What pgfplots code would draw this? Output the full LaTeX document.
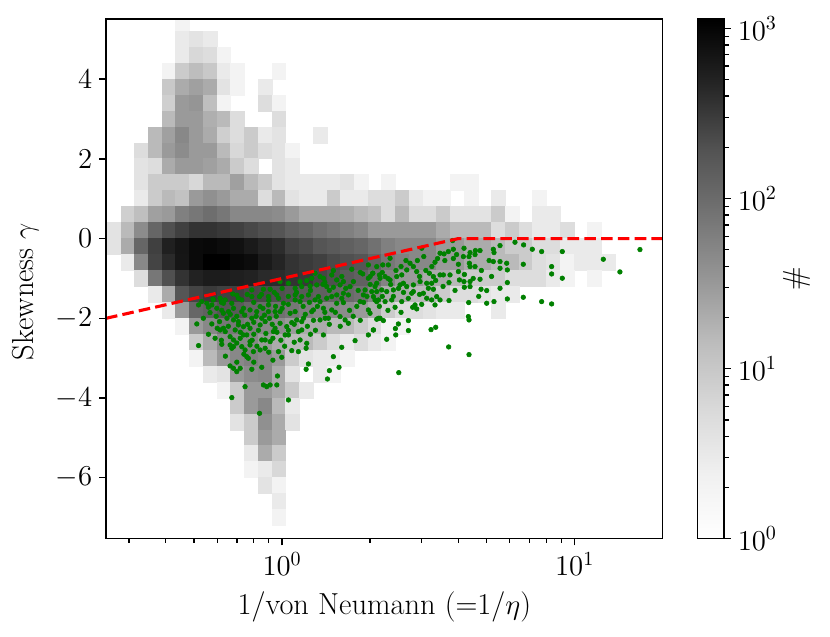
\documentclass[border=0pt]{standalone}
\usepackage{pgfplots}
\pgfplotsset{compat=1.18}
\definecolor{mplgreen}{HTML}{008000}
\pgfdeclareplotmark{cell}{%
  \pgfpathrectangle{\pgfpoint{-3.433pt}{-3.985pt}}{\pgfpoint{6.866pt}{7.970pt}}%
  \pgfusepathqfillstroke}
\pgfplotsset{
  colormap={mplgreys}{rgb255=(255,255,255) rgb255=(240,240,240) rgb255=(217,217,217) rgb255=(189,189,189) rgb255=(150,150,150) rgb255=(115,115,115) rgb255=(82,82,82) rgb255=(37,37,37) rgb255=(0,0,0)},
}
\pgfplotstableread{
x y c
0.4574 5.4 2
0.4574 5.0 3
0.5096 5.0 4
0.5677 5.0 3
0.4574 4.6 3
0.5096 4.6 6
0.5677 4.6 5
0.6324 4.6 2
0.4106 4.2 2
0.4574 4.2 9
0.5096 4.2 14
0.5677 4.2 10
0.6324 4.2 3
0.7047 4.2 2
0.9748 4.2 2
0.4106 3.8 10
0.4574 3.8 21
0.5096 3.8 27
0.5677 3.8 21
0.6324 3.8 4
0.7047 3.8 2
0.8750 3.8 3
0.4106 3.4 8
0.4574 3.4 31
0.5096 3.4 35
0.5677 3.4 13
0.6324 3.4 2
0.8750 3.4 5
0.9748 3.4 2
0.4106 3.0 15
0.4574 3.0 31
0.5096 3.0 31
0.5677 3.0 19
0.6324 3.0 15
0.7047 3.0 5
0.9748 3.0 5
0.3685 2.6 15
0.4106 2.6 27
0.4574 2.6 48
0.5096 2.6 31
0.5677 2.6 21
0.6324 2.6 8
0.7047 2.6 5
0.7852 2.6 9
0.8750 2.6 3
0.9748 2.6 4
1.3480 2.6 3
0.3308 2.2 5
0.3685 2.2 15
0.4106 2.2 31
0.4574 2.2 43
0.5096 2.2 31
0.5677 2.2 31
0.6324 2.2 15
0.7047 2.2 6
0.7852 2.2 9
0.8750 2.2 5
0.9748 2.2 4
1.0859 2.2 2
0.3308 1.8 4
0.3685 1.8 5
0.4106 1.8 21
0.4574 1.8 31
0.5096 1.8 31
0.5677 1.8 27
0.6324 1.8 21
0.7047 1.8 9
0.7852 1.8 5
0.9748 1.8 4
1.0859 1.8 3
0.3308 1.4 4
0.3685 1.4 9
0.4106 1.4 9
0.4574 1.4 9
0.5096 1.4 6
0.5677 1.4 15
0.6324 1.4 15
0.7047 1.4 27
0.7852 1.4 15
0.8750 1.4 9
0.9748 1.4 4
1.0859 1.4 3
1.2099 1.4 3
1.3480 1.4 3
1.5021 1.4 3
1.6734 1.4 4
1.8646 1.4 2
2.3143 1.4 2
3.9727 1.4 2
4.4270 1.4 2
0.3308 1.0 3
0.3685 1.0 9
0.4106 1.0 15
0.4574 1.0 12
0.5096 1.0 31
0.5677 1.0 39
0.6324 1.0 31
0.7047 1.0 21
0.7852 1.0 21
0.8750 1.0 5
0.9748 1.0 15
1.0859 1.0 4
1.2099 1.0 3
1.3480 1.0 3
1.5021 1.0 9
1.6734 1.0 3
1.8646 1.0 3
2.0773 1.0 5
2.3143 1.0 5
2.5787 1.0 9
2.8725 1.0 3
3.2006 1.0 2
3.5662 1.0 2
4.4270 1.0 2
5.4950 1.0 3
7.5996 1.0 2
0.2970 0.6 8
0.3308 0.6 13
0.3685 0.6 27
0.4106 0.6 31
0.4574 0.6 59
0.5096 0.6 73
0.5677 0.6 92
0.6324 0.6 73
0.7047 0.6 48
0.7852 0.6 48
0.8750 0.6 48
0.9748 0.6 43
1.0859 0.6 31
1.2099 0.6 21
1.3480 0.6 21
1.5021 0.6 21
1.6734 0.6 19
1.8646 0.6 15
2.0773 0.6 12
2.3143 0.6 5
2.5787 0.6 15
2.8725 0.6 5
3.2006 0.6 5
3.5662 0.6 9
3.9727 0.6 4
4.4270 0.6 4
4.9317 0.6 4
5.4950 0.6 9
6.1223 0.6 2
7.5996 0.6 3
8.4667 0.6 3
0.2665 0.2 4
0.2970 0.2 15
0.3308 0.2 43
0.3685 0.2 115
0.4106 0.2 204
0.4574 0.2 279
0.5096 0.2 358
0.5677 0.2 358
0.6324 0.2 325
0.7047 0.2 279
0.7852 0.2 238
0.8750 0.2 204
0.9748 0.2 181
1.0859 0.2 135
1.2099 0.2 115
1.3480 0.2 88
1.5021 0.2 73
1.6734 0.2 59
1.8646 0.2 48
2.0773 0.2 31
2.3143 0.2 31
2.5787 0.2 31
2.8725 0.2 31
3.2006 0.2 31
3.5662 0.2 21
3.9727 0.2 15
4.4270 0.2 15
4.9317 0.2 15
5.4950 0.2 5
6.1223 0.2 9
6.8218 0.2 5
7.5996 0.2 3
8.4667 0.2 3
9.4324 0.2 5
11.709 0.2 2
0.2665 -0.2 4
0.2970 -0.2 21
0.3308 -0.2 115
0.3685 -0.2 279
0.4106 -0.2 531
0.4574 -0.2 685
0.5096 -0.2 894
0.5677 -0.2 940
0.6324 -0.2 853
0.7047 -0.2 759
0.7852 -0.2 612
0.8750 -0.2 481
0.9748 -0.2 411
1.0859 -0.2 279
1.2099 -0.2 238
1.3480 -0.2 181
1.5021 -0.2 158
1.6734 -0.2 135
1.8646 -0.2 115
2.0773 -0.2 85
2.3143 -0.2 59
2.5787 -0.2 48
2.8725 -0.2 48
3.2006 -0.2 48
3.5662 -0.2 31
3.9727 -0.2 31
4.4270 -0.2 21
4.9317 -0.2 21
5.4950 -0.2 15
6.1223 -0.2 9
6.8218 -0.2 9
7.5996 -0.2 5
8.4667 -0.2 5
9.4324 -0.2 3
10.510 -0.2 3
11.709 -0.2 3
0.2970 -0.6 3
0.3308 -0.6 48
0.3685 -0.6 258
0.4106 -0.6 428
0.4574 -0.6 673
0.5096 -0.6 894
0.5677 -0.6 1136
0.6324 -0.6 1136
0.7047 -0.6 940
0.7852 -0.6 853
0.8750 -0.6 612
0.9748 -0.6 481
1.0859 -0.6 358
1.2099 -0.6 313
1.3480 -0.6 279
1.5021 -0.6 229
1.6734 -0.6 204
1.8646 -0.6 181
2.0773 -0.6 125
2.3143 -0.6 73
2.5787 -0.6 59
2.8725 -0.6 48
3.2006 -0.6 48
3.5662 -0.6 31
3.9727 -0.6 31
4.4270 -0.6 21
4.9317 -0.6 21
5.4950 -0.6 15
6.1223 -0.6 15
6.8218 -0.6 9
7.5996 -0.6 5
8.4667 -0.6 4
9.4324 -0.6 2
10.510 -0.6 3
11.709 -0.6 3
13.047 -0.6 3
0.3308 -1.0 5
0.3685 -1.0 73
0.4106 -1.0 204
0.4574 -1.0 358
0.5096 -1.0 506
0.5677 -1.0 583
0.6324 -1.0 583
0.7047 -1.0 540
0.7852 -1.0 506
0.8750 -1.0 428
0.9748 -1.0 411
1.0859 -1.0 358
1.2099 -1.0 325
1.3480 -1.0 250
1.5021 -1.0 204
1.6734 -1.0 160
1.8646 -1.0 130
2.0773 -1.0 90
2.3143 -1.0 55
2.5787 -1.0 31
2.8725 -1.0 31
3.2006 -1.0 21
3.5662 -1.0 21
3.9727 -1.0 15
4.4270 -1.0 9
4.9317 -1.0 9
5.4950 -1.0 9
6.1223 -1.0 5
6.8218 -1.0 5
7.5996 -1.0 5
8.4667 -1.0 3
9.4324 -1.0 2
11.709 -1.0 2
0.3685 -1.4 3
0.4106 -1.4 21
0.4574 -1.4 181
0.5096 -1.4 258
0.5677 -1.4 313
0.6324 -1.4 279
0.7047 -1.4 279
0.7852 -1.4 238
0.8750 -1.4 229
0.9748 -1.4 204
1.0859 -1.4 181
1.2099 -1.4 158
1.3480 -1.4 135
1.5021 -1.4 115
1.6734 -1.4 103
1.8646 -1.4 88
2.0773 -1.4 50
2.3143 -1.4 21
2.5787 -1.4 21
2.8725 -1.4 15
3.2006 -1.4 15
3.5662 -1.4 9
3.9727 -1.4 5
4.4270 -1.4 5
4.9317 -1.4 4
5.4950 -1.4 3
6.1223 -1.4 3
0.4106 -1.8 3
0.4574 -1.8 31
0.5096 -1.8 115
0.5677 -1.8 135
0.6324 -1.8 181
0.7047 -1.8 158
0.7852 -1.8 115
0.8750 -1.8 103
0.9748 -1.8 88
1.0859 -1.8 73
1.2099 -1.8 59
1.3480 -1.8 48
1.5021 -1.8 48
1.6734 -1.8 43
1.8646 -1.8 31
2.0773 -1.8 20
2.3143 -1.8 9
2.5787 -1.8 5
2.8725 -1.8 5
3.2006 -1.8 4
3.5662 -1.8 3
3.9727 -1.8 3
5.4950 -1.8 3
0.4574 -2.2 2
0.5096 -2.2 31
0.5677 -2.2 48
0.6324 -2.2 73
0.7047 -2.2 73
0.7852 -2.2 59
0.8750 -2.2 48
0.9748 -2.2 43
1.0859 -2.2 31
1.2099 -2.2 21
1.3480 -2.2 21
1.5021 -2.2 15
1.6734 -2.2 15
1.8646 -2.2 9
2.0773 -2.2 5
2.3143 -2.2 2
2.5787 -2.2 2
0.5096 -2.6 9
0.5677 -2.6 21
0.6324 -2.6 43
0.7047 -2.6 48
0.7852 -2.6 48
0.8750 -2.6 31
0.9748 -2.6 21
1.0859 -2.6 15
1.2099 -2.6 15
1.3480 -2.6 9
1.5021 -2.6 5
1.6734 -2.6 3
1.8646 -2.6 5
2.0773 -2.6 3
2.3143 -2.6 2
0.5096 -3.0 2
0.5677 -3.0 15
0.6324 -3.0 31
0.7047 -3.0 48
0.7852 -3.0 59
0.8750 -3.0 48
0.9748 -3.0 31
1.0859 -3.0 9
1.2099 -3.0 4
1.3480 -3.0 3
1.5021 -3.0 3
1.6734 -3.0 2
0.5677 -3.4 3
0.6324 -3.4 4
0.7047 -3.4 31
0.7852 -3.4 43
0.8750 -3.4 48
0.9748 -3.4 21
1.0859 -3.4 4
1.3480 -3.4 3
1.5021 -3.4 2
0.6324 -3.8 2
0.7047 -3.8 9
0.7852 -3.8 31
0.8750 -3.8 31
0.9748 -3.8 21
1.0859 -3.8 9
1.2099 -3.8 3
0.7047 -4.2 9
0.7852 -4.2 31
0.8750 -4.2 48
0.9748 -4.2 15
1.0859 -4.2 3
0.7047 -4.6 4
0.7852 -4.6 9
0.8750 -4.6 39
0.9748 -4.6 21
1.0859 -4.6 4
0.7852 -5.0 9
0.8750 -5.0 31
0.9748 -5.0 21
0.7852 -5.4 3
0.8750 -5.4 21
0.9748 -5.4 9
0.7852 -5.8 2
0.8750 -5.8 3
0.9748 -5.8 6
0.8750 -6.2 4
0.9748 -6.2 2
0.9748 -6.6 3
0.9748 -7.0 2
}\histtable
\pgfplotstableread{
x y
1.972 -0.660
1.730 -0.769
1.886 -0.886
2.041 -0.869
2.151 -0.912
1.497 -0.802
1.478 -0.912
1.296 -0.869
1.348 -0.953
1.051 -1.120
0.984 -1.079
1.152 -1.079
1.214 -1.053
1.263 -0.995
1.384 -0.995
1.537 -1.037
1.620 -1.079
1.753 -1.079
1.972 -0.995
2.106 -1.120
0.863 -1.271
0.910 -1.271
1.108 -1.246
1.167 -1.204
1.246 -1.187
1.313 -1.162
1.421 -1.204
1.497 -1.221
1.578 -1.162
1.707 -1.204
1.921 -1.288
2.025 -1.329
0.788 -1.288
0.678 -1.388
0.531 -1.581
0.582 -1.539
0.614 -1.497
0.639 -1.539
0.709 -1.497
0.728 -1.539
0.788 -1.455
0.837 -1.455
0.898 -1.455
0.959 -1.413
0.972 -1.497
1.108 -1.413
1.167 -1.455
1.230 -1.413
1.331 -1.455
1.421 -1.497
1.478 -1.455
1.537 -1.413
1.620 -1.371
1.685 -1.413
2.078 -1.539
1.896 -1.413
0.518 -1.664
0.553 -1.623
0.575 -1.664
0.598 -1.748
0.630 -1.623
0.673 -1.623
0.682 -1.748
0.738 -1.748
0.777 -1.790
0.841 -1.706
0.898 -1.664
1.011 -1.623
1.108 -1.539
1.152 -1.581
1.296 -1.539
1.348 -1.581
1.537 -1.623
1.620 -1.606
1.847 -1.581
2.106 -1.581
0.567 -1.857
0.630 -1.874
0.656 -1.832
0.728 -1.832
0.819 -1.832
0.898 -1.832
0.946 -1.832
0.984 -1.832
1.065 -1.874
1.108 -1.832
1.263 -1.832
1.279 -1.790
1.384 -1.748
1.478 -1.790
1.972 -1.790
1.998 -1.874
2.134 -1.999
0.538 -1.999
0.611 -2.083
0.682 -2.041
0.709 -2.083
0.788 -1.999
0.852 -1.999
0.875 -2.083
0.984 -2.125
1.079 -2.108
1.122 -2.041
1.167 -2.083
1.183 -1.999
1.348 -2.041
1.403 -1.999
1.440 -1.999
1.578 -1.957
1.642 -2.041
1.685 -2.125
0.511 -2.141
0.575 -2.141
0.630 -2.250
0.639 -2.334
0.691 -2.292
0.709 -2.166
0.738 -2.209
0.777 -2.250
0.841 -2.166
0.934 -2.334
0.946 -2.250
1.037 -2.209
1.051 -2.417
1.137 -2.334
1.167 -2.292
2.051 -2.292
1.972 -2.417
0.614 -2.292
0.590 -2.501
0.664 -2.460
0.682 -2.543
0.719 -2.501
0.738 -2.417
0.757 -2.417
0.777 -2.585
0.852 -2.543
0.875 -2.543
0.910 -2.585
1.024 -2.417
1.152 -2.543
1.214 -2.627
1.384 -2.417
1.776 -2.560
0.518 -2.685
0.622 -2.652
0.664 -2.669
0.682 -2.711
0.728 -2.711
0.777 -2.669
0.673 -2.752
0.747 -2.794
0.798 -2.836
0.757 -2.962
0.767 -3.003
0.841 -2.794
0.875 -2.752
0.972 -2.836
0.997 -2.978
1.079 -2.811
1.137 -2.836
1.208 -2.752
1.599 -2.727
1.497 -2.962
0.664 -3.195
0.682 -3.254
0.719 -3.254
0.700 -3.338
0.788 -3.279
0.852 -3.229
1.230 -3.145
1.208 -3.279
1.451 -3.313
1.565 -3.229
0.964 -3.447
1.429 -3.522
0.747 -3.715
0.863 -3.672
0.886 -3.715
0.910 -3.672
0.959 -3.672
0.673 -3.990
1.051 -4.049
0.837 -4.384
3.829 -0.049
6.252 -0.091
6.692 -0.158
5.558 -0.175
5.272 -0.267
5.300 -0.351
4.749 -0.300
4.578 -0.300
4.565 -0.401
4.389 -0.351
4.186 -0.242
4.165 -0.451
4.354 -0.451
3.701 -0.325
3.577 -0.384
3.466 -0.367
3.849 -0.267
3.001 -0.242
5.558 -0.576
5.272 -0.576
5.857 -0.618
6.675 -0.644
5.888 -0.786
5.558 -0.744
4.005 -0.644
4.366 -0.618
4.389 -0.702
4.565 -0.702
3.332 -0.593
2.339 -0.493
2.208 -0.660
2.308 -0.660
2.106 -0.702
2.737 -0.618
2.810 -0.702
2.667 -0.786
2.564 -0.911
2.885 -0.827
2.465 -0.953
2.249 -0.953
2.162 -0.995
2.339 -1.037
2.041 -0.869
3.466 -0.911
3.558 -0.911
3.187 -0.869
3.289 -0.953
3.750 -0.911
4.005 -0.827
4.037 -1.037
3.720 -1.103
4.389 -1.078
4.186 -1.078
4.197 -1.221
4.389 -1.204
4.749 -1.020
5.004 -1.304
4.786 -1.271
5.558 -1.246
5.888 -1.103
2.962 -1.078
3.121 -1.120
3.245 -1.120
3.040 -1.371
3.162 -1.246
3.289 -1.271
3.376 -1.455
3.245 -1.539
3.121 -1.497
3.466 -1.539
3.332 -1.664
3.720 -1.555
4.343 -1.605
5.004 -1.622
5.300 -1.580
5.888 -1.514
6.675 -1.472
2.810 -1.162
2.810 -1.329
2.773 -1.371
2.667 -1.204
2.597 -1.120
2.530 -1.162
2.401 -1.288
2.278 -1.329
2.190 -1.288
2.106 -1.329
2.078 -1.204
2.051 -1.455
2.134 -1.539
2.249 -1.580
2.370 -1.539
2.564 -1.580
2.433 -1.723
2.847 -1.664
2.885 -1.764
2.795 -1.723
4.331 -1.957
4.354 -2.041
3.350 -2.225
3.229 -2.284
2.702 -2.057
2.702 -2.308
2.497 -2.141
2.439 -2.258
2.446 -2.417
2.278 -2.526
2.106 -2.024
2.162 -1.999
2.219 -2.057
2.051 -2.292
3.710 -2.718
4.354 -2.911
8.343 -0.702
8.343 -0.887
9.073 -0.325
9.073 -0.994
8.343 -1.639
7.713 -1.581
7.713 -0.325
7.166 -0.267
12.53 -0.518
14.28 -0.836
16.72 -0.275
2.505 -3.363
0.560 -1.720
0.595 -1.950
0.622 -1.800
0.648 -2.000
0.665 -1.900
0.700 -1.950
0.745 -1.920
0.762 -2.150
0.800 -2.100
0.815 -1.950
0.830 -2.300
0.870 -1.920
0.905 -2.000
0.925 -2.150
0.955 -1.950
0.600 -2.250
0.655 -2.200
0.720 -2.350
0.800 -2.400
0.880 -2.380
0.960 -2.350
0.700 -2.620
0.790 -2.550
0.930 -2.500
0.990 -2.550
0.560 -2.400
0.620 -2.550
0.740 -2.900
0.820 -2.700
0.900 -2.850
0.640 -2.950
0.700 -3.100
0.800 -3.100
0.930 -3.050
1.020 -2.700
1.100 -2.600
1.050 -2.300
1.100 -2.150
1.220 -2.200
1.250 -2.400
1.300 -2.300
1.280 -2.050
1.200 -1.900
1.320 -1.700
1.400 -1.850
1.450 -2.150
1.520 -1.850
1.580 -2.200
1.700 -1.800
1.750 -1.950
1.800 -1.700
1.850 -2.050
1.900 -1.600
1.950 -1.450
1.820 -1.300
1.650 -1.250
1.600 -1.500
1.450 -1.300
1.380 -1.150
1.250 -1.300
1.120 -1.350
1.050 -1.450
1.000 -1.250
0.940 -1.350
0.850 -1.400
0.760 -1.400
0.700 -1.420
0.620 -1.600
0.580 -1.520
0.800 -1.600
0.900 -1.550
1.000 -1.750
1.050 -1.650
1.180 -1.700
1.240 -1.600
0.860 -1.750
0.950 -1.700
2.200 -0.850
2.300 -1.000
2.450 -0.800
2.550 -0.700
2.650 -0.550
2.900 -0.550
3.050 -0.450
3.250 -0.700
3.400 -0.500
3.600 -0.550
3.850 -0.500
3.950 -0.400
2.950 -0.950
3.100 -0.800
3.350 -1.050
3.550 -1.200
3.900 -1.300
4.200 -0.900
4.500 -1.000
4.800 -0.800
5.100 -0.550
5.200 -0.950
4.700 -1.450
2.400 -1.450
2.600 -1.350
2.700 -1.500
2.950 -1.400
3.000 -1.650
2.550 -1.850
2.300 -1.800
2.150 -1.700
2.350 -1.150
2.500 -1.250
2.000 -1.150
2.200 -1.450
2.000 -0.950
1.850 -0.850
1.600 -0.950
1.400 -1.100
}\pointtable
\begin{document}
\begin{tikzpicture}
\useasboundingbox (-53pt,-49.15pt) rectangle (362pt,269.35pt);
\begin{axis}[
  at={(0pt,0pt)}, anchor=south west,
  scale only axis, width=278.35pt, height=259.85pt,
  xmode=log, xmin=0.25, xmax=20,
  ymin=-7.53, ymax=5.51,
  ytick={-6,-4,-2,0,2,4},
  tick align=outside, tick pos=left,
  major tick length=3.35pt, minor tick length=2pt,
  every tick/.style={black, line width=0.7pt},
  axis line style={line width=0.75pt},
  axis on top,
  clip marker paths=true,
  colormap name=mplgreys,
  point meta min=0, point meta max=3.0555,
  tick label style={font=\fontsize{14.5}{17}\selectfont},
  xlabel={1/von Neumann (=1/$\eta$)},
  ylabel={Skewness $\gamma$},
  every axis x label/.style={at={(axis description cs:0.5,-0.1449)}, anchor=base, font=\fontsize{15.2}{18}\selectfont},
  every axis y label/.style={at={(axis description cs:-0.1311,0.4757)}, anchor=base, rotate=90, font=\fontsize{15.2}{18}\selectfont},
  colorbar,
  colorbar shift/.style={xshift=17.3pt},
  colorbar style={
    at={(parent axis.north east)}, anchor=north west,
    scale only axis, width=13.35pt, height=259.85pt,
    ytick={0,1,2,3},
    yticklabels={$10^{0}$,$10^{1}$,$10^{2}$,$10^{3}$},
    minor ytick={0.30103,0.47712,0.60206,0.69897,0.77815,0.84510,0.90309,0.95424,1.30103,1.47712,1.60206,1.69897,1.77815,1.84510,1.90309,1.95424,2.30103,2.47712,2.60206,2.69897,2.77815,2.84510,2.90309,2.95424},
    tick align=outside, ytick pos=right, yticklabel pos=right,
    major tick length=3.35pt, minor tick length=2.6pt,
    every tick/.style={black, line width=0.7pt},
    axis line style={line width=0.75pt},
    tick label style={font=\fontsize{14.5}{17}\selectfont},
    xlabel={}, ylabel={\#},
    every axis y label/.style={at={(axis description cs:3.734,0.5)}, anchor=center, rotate=90, font=\fontsize{15.2}{18}\selectfont},
  },
]
\addplot[scatter, only marks, mark=cell, line width=0.4pt,
  scatter/use mapped color={draw=mapped color, fill=mapped color},
  point meta={log10(\thisrow{c})}] table[x=x, y=y] {\histtable};
\addplot[only marks, mark=*, mark size=1.15pt, color=mplgreen,
  mark options={draw=mplgreen, fill=mplgreen, line width=0.3pt}] table[x=x, y=y] {\pointtable};
\addplot[color=red, line width=1.55pt, dash pattern=on 5.8pt off 2.6pt, no marks]
  coordinates {(0.25,-2) (4,0) (20,0)};
\end{axis}
\end{tikzpicture}
\end{document}
